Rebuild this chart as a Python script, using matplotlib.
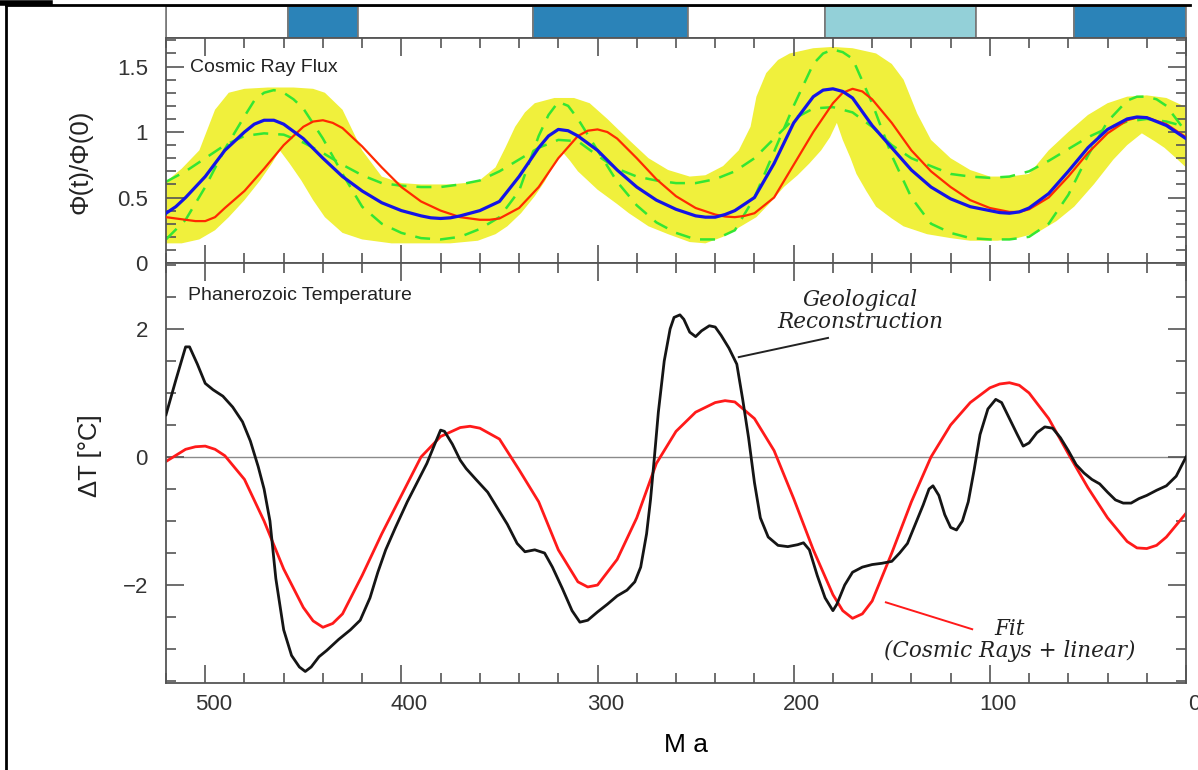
import numpy as np
import matplotlib
matplotlib.use("Agg")
import matplotlib.pyplot as plt
from matplotlib.ticker import MultipleLocator, FuncFormatter
import matplotlib.transforms as mtransforms
from matplotlib.lines import Line2D

# ---------------- data ----------------
# glaciation bar (age boundaries in Ma, kind per segment)
bar_edges = [520, 458, 422, 333, 254, 184, 107, 57, 0]
bar_kinds = ["warm", "ice", "warm", "ice", "warm", "cool", "warm", "ice"]

# cosmic ray flux panel
blue_age = [520, 515, 510, 500, 490, 480, 475, 470, 465, 460, 450, 440, 430, 420, 410, 400,
            390, 385, 380, 375, 370, 360, 350, 340, 330, 325, 320, 315, 310, 300, 290, 280,
            270, 260, 250, 245, 240, 235, 230, 220, 210, 200, 190, 185, 180, 175, 170, 160,
            150, 140, 130, 120, 110, 100, 95, 90, 85, 80, 70, 60, 50, 40, 30, 25, 20, 10, 0]
blue_val = [0.38, 0.43, 0.50, 0.66, 0.86, 1.00, 1.06, 1.09, 1.09, 1.06, 0.95, 0.80, 0.66, 0.55, 0.46, 0.40,
            0.36, 0.345, 0.34, 0.345, 0.36, 0.40, 0.47, 0.66, 0.88, 0.97, 1.02, 1.01, 0.97, 0.86, 0.71, 0.58,
            0.48, 0.41, 0.36, 0.35, 0.35, 0.37, 0.40, 0.50, 0.76, 1.07, 1.27, 1.32, 1.33, 1.31, 1.26, 1.05,
            0.88, 0.71, 0.58, 0.49, 0.43, 0.40, 0.385, 0.38, 0.39, 0.42, 0.53, 0.70, 0.88, 1.02, 1.10, 1.115, 1.11, 1.05, 0.95]

red_age = [520, 510, 505, 500, 495, 490, 480, 470, 460, 450, 445, 440, 435, 430, 420, 410, 400,
           390, 380, 370, 365, 360, 355, 350, 340, 330, 320, 310, 305, 300, 295, 290, 280, 270,
           260, 250, 240, 235, 230, 225, 220, 210, 200, 190, 180, 175, 170, 165, 160, 150, 140,
           130, 120, 110, 100, 90, 85, 80, 70, 60, 50, 40, 30, 25, 20, 10, 0]
red_val = [0.35, 0.33, 0.32, 0.32, 0.35, 0.42, 0.55, 0.72, 0.90, 1.04, 1.08, 1.09, 1.07, 1.03, 0.89, 0.73, 0.58,
           0.47, 0.40, 0.35, 0.34, 0.33, 0.33, 0.34, 0.42, 0.58, 0.80, 0.97, 1.01, 1.02, 1.00, 0.95, 0.80, 0.64,
           0.51, 0.42, 0.37, 0.355, 0.35, 0.36, 0.38, 0.50, 0.75, 1.00, 1.22, 1.30, 1.33, 1.31, 1.25, 1.07, 0.86,
           0.70, 0.58, 0.48, 0.42, 0.39, 0.39, 0.41, 0.50, 0.66, 0.84, 0.99, 1.09, 1.11, 1.11, 1.06, 0.96]

hi_age = [520, 510, 500, 490, 480, 475, 470, 465, 460, 455, 450, 440, 430, 420, 410, 400, 390,
          380, 370, 360, 350, 340, 330, 325, 320, 315, 310, 300, 290, 280, 270, 260, 250, 240,
          230, 220, 210, 200, 190, 185, 180, 175, 170, 160, 150, 140, 130, 120, 110, 100, 90,
          80, 70, 60, 50, 40, 30, 25, 20, 15, 10, 0]
hi_val = [0.18, 0.33, 0.58, 0.87, 1.12, 1.24, 1.30, 1.32, 1.30, 1.25, 1.18, 0.95, 0.68, 0.43, 0.30, 0.23, 0.19,
          0.18, 0.20, 0.26, 0.35, 0.55, 0.97, 1.13, 1.23, 1.20, 1.10, 0.86, 0.62, 0.44, 0.31, 0.23, 0.18, 0.18,
          0.25, 0.50, 0.85, 1.20, 1.52, 1.60, 1.63, 1.61, 1.56, 1.22, 0.82, 0.50, 0.30, 0.23, 0.19, 0.18, 0.18,
          0.20, 0.30, 0.52, 0.82, 1.08, 1.24, 1.27, 1.27, 1.25, 1.20, 1.00]

lo_age = [520, 510, 500, 490, 480, 470, 460, 450, 440, 430, 420, 410, 400, 390, 380, 370, 360,
          350, 340, 330, 320, 310, 300, 290, 280, 270, 260, 250, 240, 230, 220, 210, 200, 190,
          180, 170, 160, 150, 140, 130, 120, 110, 100, 90, 80, 70, 60, 50, 40, 30, 20, 10, 0]
lo_val = [0.62, 0.70, 0.80, 0.90, 0.97, 0.99, 0.98, 0.92, 0.84, 0.75, 0.67, 0.61, 0.59, 0.58, 0.58, 0.60, 0.63,
          0.70, 0.79, 0.88, 0.94, 0.93, 0.82, 0.72, 0.66, 0.63, 0.61, 0.61, 0.64, 0.70, 0.80, 0.95, 1.10, 1.18,
          1.19, 1.15, 1.04, 0.90, 0.80, 0.74, 0.68, 0.66, 0.65, 0.66, 0.70, 0.78, 0.87, 0.96, 1.03, 1.08, 1.10, 1.08, 1.04]

band_up_age = [520, 512, 503, 495, 488, 480, 468, 455, 445, 439, 430, 420, 410, 400, 390,
               375, 361, 352, 347, 342, 337, 332, 322, 312, 304, 295, 284, 274, 264, 253,
               245, 236, 228, 222, 219, 214, 208, 202, 190, 180, 170, 158, 150, 144, 137,
               130, 120, 110, 100, 90, 80, 70, 60, 50, 40, 30, 20, 10, 0]
band_up_val = [0.62, 0.72, 0.86, 1.17, 1.30, 1.33, 1.34, 1.34, 1.33, 1.30, 1.17, 0.86, 0.66, 0.61, 0.60,
               0.60, 0.62, 0.73, 0.88, 1.04, 1.15, 1.22, 1.26, 1.26, 1.22, 1.10, 0.94, 0.80, 0.71, 0.66,
               0.67, 0.74, 0.86, 1.04, 1.27, 1.45, 1.55, 1.60, 1.64, 1.65, 1.64, 1.60, 1.52, 1.40, 1.14,
               0.94, 0.80, 0.71, 0.66, 0.66, 0.68, 0.86, 1.00, 1.13, 1.22, 1.27, 1.28, 1.26, 1.19]
band_lo_age = [520, 512, 503, 495, 488, 480, 472, 466, 462, 457, 451, 445, 439, 430, 420,
               405, 390, 375, 361, 352, 346, 339, 332, 327, 323, 318, 314, 310, 300, 290,
               284, 274, 264, 253, 245, 236, 228, 219, 212, 205, 198, 192, 186, 181.5, 178,
               175, 171, 168, 163, 158, 150, 144, 132, 120, 110, 96, 86, 76, 66, 57, 47,
               37, 30, 22.5, 16, 11, 5, 0]
band_lo_val = [0.15, 0.15, 0.18, 0.25, 0.35, 0.48, 0.63, 0.76, 0.86, 0.76, 0.63, 0.48, 0.35, 0.23, 0.18,
               0.15, 0.15, 0.15, 0.17, 0.22, 0.28, 0.38, 0.51, 0.62, 0.73, 0.85, 0.78, 0.70, 0.56, 0.45,
               0.38, 0.28, 0.22, 0.16, 0.15, 0.20, 0.27, 0.35, 0.46, 0.58, 0.67, 0.76, 0.86, 0.96, 1.07,
               0.94, 0.80, 0.68, 0.55, 0.43, 0.34, 0.28, 0.22, 0.19, 0.17, 0.17, 0.19, 0.23, 0.32, 0.43, 0.60,
               0.79, 0.90, 0.99, 0.93, 0.88, 0.80, 0.73]

# temperature panel
fit_age = [520, 510, 505, 500, 495, 490, 480, 470, 460, 450, 445, 440, 435, 430, 420, 410, 400,
           390, 380, 370, 365, 360, 350, 340, 330, 320, 310, 305, 300, 290, 280, 270, 260, 250,
           240, 235, 230, 220, 210, 200, 190, 180, 175, 170, 165, 160, 150, 140, 130, 120, 110,
           100, 95, 90, 85, 80, 70, 60, 50, 40, 30, 25, 20, 15, 10, 0]
fit_val = [-0.07, 0.12, 0.16, 0.17, 0.12, 0.02, -0.35, -1.00, -1.75, -2.35, -2.56, -2.66, -2.60, -2.45, -1.85, -1.20, -0.60,
           0.00, 0.32, 0.46, 0.48, 0.45, 0.28, -0.20, -0.70, -1.45, -1.95, -2.03, -2.00, -1.60, -0.95, -0.10, 0.40, 0.70,
           0.85, 0.88, 0.86, 0.60, 0.10, -0.65, -1.45, -2.15, -2.40, -2.52, -2.45, -2.25, -1.50, -0.70, 0.00, 0.50, 0.85,
           1.08, 1.14, 1.16, 1.12, 1.00, 0.60, 0.05, -0.48, -0.95, -1.32, -1.42, -1.43, -1.38, -1.25, -0.88]

geo_age = [520, 515, 510, 508, 504, 500, 496, 491, 486, 481, 477, 473, 470, 467, 464, 460,
           456, 452, 449, 446, 442, 438, 432, 426, 421, 416, 412, 408, 403, 397, 392, 387,
           383, 380, 378, 374, 370, 367, 362, 356, 351, 346, 341, 337, 332, 327, 323, 318,
           313, 309, 305, 300, 295, 290, 285, 281, 278, 275, 273, 271, 269, 266, 263, 261,
           258, 256, 253, 250, 247, 243, 240, 237, 233, 229, 226, 223, 220, 217, 213, 208,
           203, 198, 195, 192, 188, 184, 180, 178, 174, 170, 165, 160, 155, 150, 146, 142,
           138, 134, 131, 129, 126, 123, 120, 117, 114, 111, 108, 105, 101, 97, 94, 90, 86,
           83, 80, 76, 72, 68, 64, 60, 56, 52, 48, 44, 40, 36, 32, 28, 24, 20, 15, 10, 5, 0]
geo_val = [0.66, 1.20, 1.72, 1.72, 1.45, 1.15, 1.05, 0.95, 0.78, 0.55, 0.25, -0.15, -0.50, -1.00, -1.90, -2.70,
           -3.10, -3.28, -3.35, -3.28, -3.12, -3.02, -2.85, -2.70, -2.55, -2.20, -1.80, -1.45, -1.10, -0.70, -0.40, -0.10,
           0.20, 0.42, 0.40, 0.20, -0.05, -0.18, -0.35, -0.55, -0.80, -1.05, -1.35, -1.48, -1.45, -1.50, -1.72, -2.05,
           -2.40, -2.58, -2.55, -2.42, -2.30, -2.17, -2.08, -1.95, -1.72, -1.20, -0.67, 0.00, 0.70, 1.50, 2.00, 2.18,
           2.22, 2.15, 1.95, 1.88, 1.97, 2.05, 2.03, 1.90, 1.70, 1.45, 0.90, 0.30, -0.40, -0.95, -1.25, -1.38,
           -1.40, -1.37, -1.34, -1.45, -1.85, -2.20, -2.40, -2.30, -2.00, -1.80, -1.72, -1.68, -1.66, -1.63, -1.50, -1.35,
           -1.05, -0.75, -0.50, -0.45, -0.60, -0.90, -1.10, -1.14, -1.00, -0.70, -0.20, 0.35, 0.75, 0.90, 0.85, 0.60, 0.35,
           0.17, 0.22, 0.38, 0.47, 0.45, 0.30, 0.10, -0.12, -0.25, -0.35, -0.42, -0.55, -0.67, -0.72, -0.72, -0.65, -0.60, -0.52, -0.45, -0.30, 0.00]

x_ticks = [500, 400, 300, 200, 100, 0]

# ---------------- figure ----------------
W, H = 1198, 770
fig = plt.figure(figsize=(W / 100, H / 100), dpi=100)


def rect(x0, y0, x1, y1):
    return [x0 / W, 1 - y1 / H, (x1 - x0) / W, (y1 - y0) / H]


ax_bar = fig.add_axes(rect(166, 6, 1186, 38))
ax_top = fig.add_axes(rect(166, 38, 1186, 263))
ax_bot = fig.add_axes(rect(166, 263, 1186, 683))

spine_col = "#555555"
label_col = "#333333"
sans = ["Liberation Sans", "DejaVu Sans"]

# bar
kind_col = {"warm": "white", "ice": "#2b83b8", "cool": "#93d0d8"}
for i, kind in enumerate(bar_kinds):
    ax_bar.barh(0, bar_edges[i] - bar_edges[i + 1], left=bar_edges[i + 1], height=1,
                color=kind_col[kind], edgecolor="#777777", linewidth=1.2)
ax_bar.set_xlim(520, 0)
ax_bar.set_ylim(-0.5, 0.5)
ax_bar.set_xticks([])
ax_bar.set_yticks([])
for s in ax_bar.spines.values():
    s.set_color("#777777")
    s.set_linewidth(1.2)

# top panel
band_x = list(band_up_age) + list(band_lo_age[::-1])
band_y = list(band_up_val) + list(band_lo_val[::-1])
ax_top.fill(band_x, band_y, color="#f0f03c", lw=0, zorder=1)
ax_top.plot(hi_age, hi_val, color="#33e633", lw=1.8, dashes=(6, 4), zorder=2)
ax_top.plot(lo_age, lo_val, color="#33e633", lw=1.8, dashes=(6, 4), zorder=2)
ax_top.plot(red_age, red_val, color="#ff2a00", lw=1.6, zorder=3, solid_joinstyle="round")
ax_top.plot(blue_age, blue_val, color="#1414e6", lw=2.3, zorder=4, solid_joinstyle="round")
ax_top.set_xlim(520, 0)
ax_top.set_ylim(0, 1.718)
ax_top.yaxis.set_major_locator(MultipleLocator(0.5))
ax_top.yaxis.set_minor_locator(MultipleLocator(0.1))
ax_top.yaxis.set_major_formatter(FuncFormatter(lambda v, p: f"{v:g}"))
ax_top.set_xticks(x_ticks)
ax_top.xaxis.set_minor_locator(MultipleLocator(20))
ax_top.tick_params(labelbottom=False)

# bottom panel
ax_bot.axhline(0, color="#8a8a8a", lw=1.0, zorder=1)
ax_bot.plot(fit_age, fit_val, color="#ff1a1a", lw=2.0, zorder=2, solid_joinstyle="round")
ax_bot.plot(geo_age, geo_val, color="#151515", lw=2.0, zorder=3, solid_joinstyle="round")
ax_bot.set_xlim(520, 0)
ax_bot.set_ylim(-3.53, 3.03)
ax_bot.yaxis.set_major_locator(MultipleLocator(2))
ax_bot.yaxis.set_minor_locator(MultipleLocator(0.5))
ax_bot.set_xticks(x_ticks)
ax_bot.xaxis.set_minor_locator(MultipleLocator(20))

for ax in (ax_top, ax_bot):
    ax.tick_params(which="both", direction="in", top=True, right=True,
                   color=spine_col, width=1.2, labelcolor=label_col, labelsize=16)
    ax.tick_params(which="major", length=13)
    ax.tick_params(which="minor", length=7)
    ax.tick_params(axis="x", which="major", pad=8)
    ax.tick_params(axis="y", which="major", pad=13)
    for s in ax.spines.values():
        s.set_color(spine_col)
        s.set_linewidth(1.3)
    for lab in ax.get_xticklabels() + ax.get_yticklabels():
        lab.set_family(sans)

offset = mtransforms.ScaledTranslation(8 / 100, 0, fig.dpi_scale_trans)
for lab in ax_bot.get_xticklabels():
    lab.set_transform(lab.get_transform() + offset)

# panel titles
fig.text(190 / W, 1 - 67 / H, "Cosmic Ray Flux", fontsize=14, color="#222222",
         family=sans, ha="left", va="center")
fig.text(188 / W, 1 - 296 / H, "Phanerozoic Temperature", fontsize=14, color="#222222",
         family=sans, ha="left", va="center")

# axis labels
fig.text(80 / W, 1 - 162 / H, "Φ(t)/Φ(0)", rotation=90, fontsize=18.5, color="#222222",
         family=sans, ha="center", va="center")
fig.text(90 / W, 1 - 456 / H, "ΔT [°C]", rotation=90, fontsize=18.5, color="#222222",
         family=sans, ha="center", va="center")
fig.text(686 / W, 1 - 745 / H, "M a", fontsize=19, color="black",
         family=sans, ha="center", va="center")

# annotations
serif = ["DejaVu Serif"]
ax_bot.text(166, 2.28, "Geological\nReconstruction", fontsize=15.5, style="italic",
            family=serif, color="#222222", ha="center", va="center",
            multialignment="center", linespacing=1.0)
ax_bot.plot([228, 182.5], [1.56, 1.86], color="#222222", lw=1.4)
ax_bot.text(90, -2.86, "Fit\n(Cosmic Rays + linear)", fontsize=15.5, style="italic",
            family=serif, color="#222222", ha="center", va="center",
            multialignment="center", linespacing=1.0)
ax_bot.plot([153, 109], [-2.27, -2.69], color="#ff1a1a", lw=1.4)

# outer frame fragments
fig.add_artist(Line2D([6 / W, 6 / W], [0, 1 - 5 / H], color="black", lw=2,
                      transform=fig.transFigure))
fig.add_artist(Line2D([6 / W, 1190 / W], [1 - 5 / H, 1 - 5 / H], color="black", lw=2,
                      transform=fig.transFigure))
fig.add_artist(Line2D([0, 50 / W], [1 - 3 / H, 1 - 3 / H], color="black", lw=4,
                      transform=fig.transFigure))

fig.savefig("out.png", dpi=100)
